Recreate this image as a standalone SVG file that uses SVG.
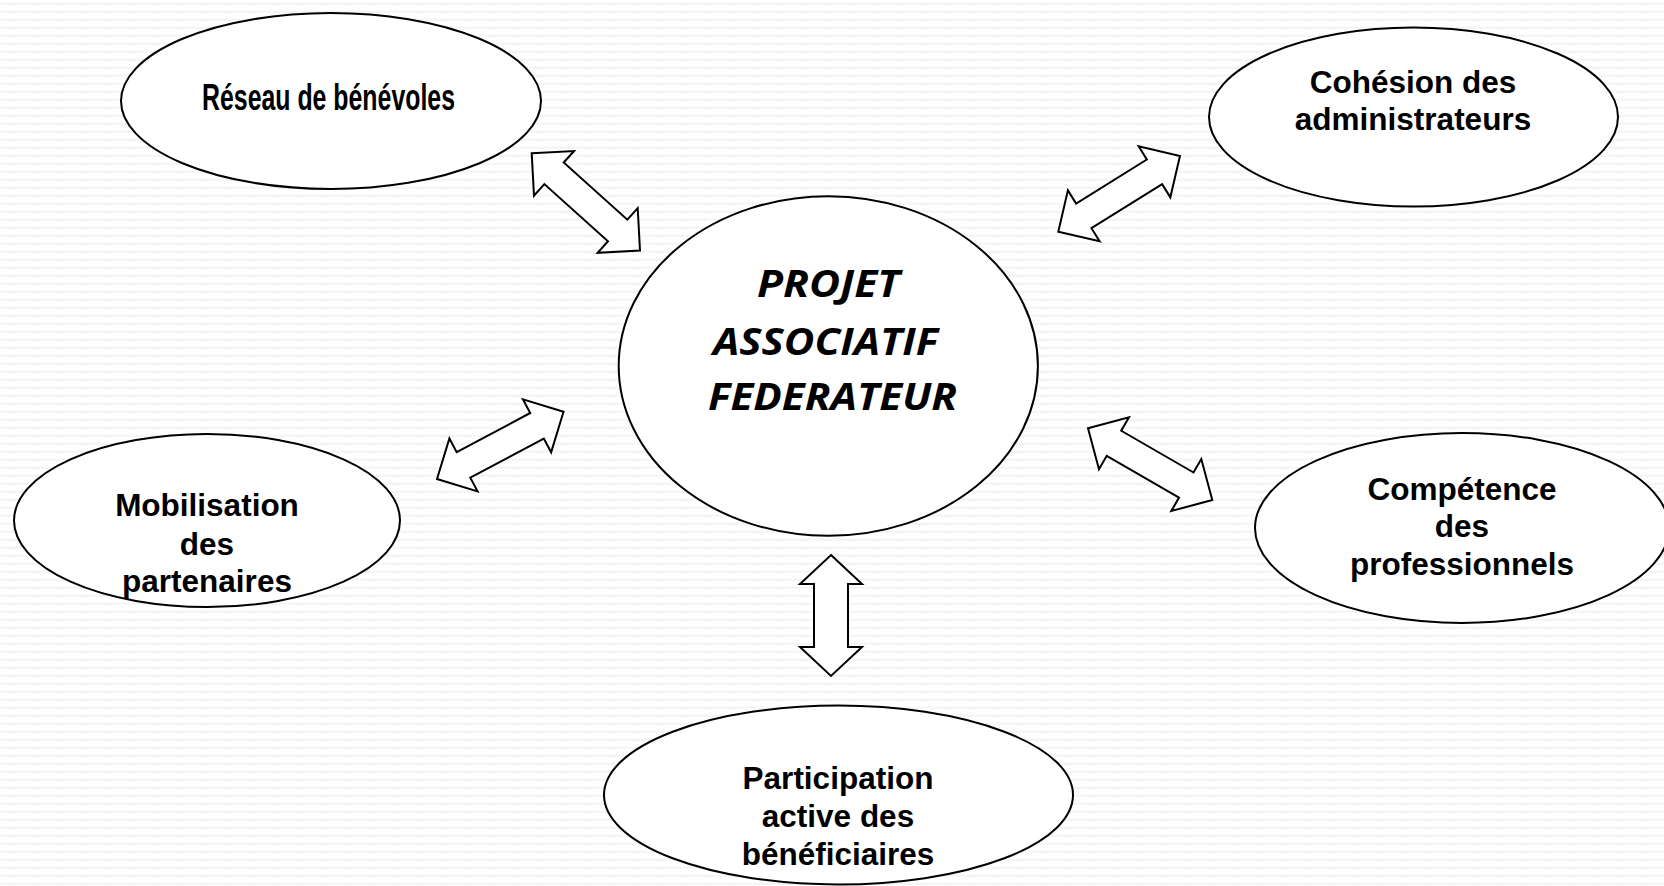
<svg xmlns="http://www.w3.org/2000/svg" width="1664" height="886" viewBox="0 0 1664 886">
  <defs>
    <pattern id="bgwave" width="6" height="8" patternUnits="userSpaceOnUse">
      <path d="M0,5 L1.5,2.5 L3,5 L4.5,2.5 L6,5" fill="none" stroke="#efefef" stroke-width="1"/>
    </pattern>
  </defs>
  <style>
    .node { fill: #ffffff; stroke: #000000; stroke-width: 2; }
    .arrow { fill: #ffffff; stroke: #000000; stroke-width: 2; stroke-linejoin: miter; }
    .lbl { font-family: "Liberation Sans", Arial, sans-serif; font-weight: bold; font-size: 31.5px; fill: #000000; text-anchor: middle; }
    .narrow { font-family: "Liberation Sans", Arial, sans-serif; font-weight: bold; font-size: 37px; fill: #000000; text-anchor: middle; }
    .core { font-family: "Open Sans", "Noto Sans", sans-serif; font-weight: bold; font-style: italic; font-size: 38px; fill: #000000; text-anchor: middle; }
  </style>

  <rect x="0" y="0" width="1664" height="886" fill="#ffffff"/>
  <rect x="0" y="0" width="1664" height="886" fill="url(#bgwave)"/>

  <g id="connectors">
    <path class="arrow" transform="translate(531.7,153.3) rotate(41.9)" d="M0,0 L30,-30 L30,-14.5 L115.5,-14.5 L115.5,-30 L145.5,0 L115.5,30 L115.5,14.5 L30,14.5 L30,30 Z"/>
    <path class="arrow" transform="translate(1058.3,231.7) rotate(-31.9)" d="M0,0 L30,-30 L30,-14.5 L113.3,-14.5 L113.3,-30 L143.3,0 L113.3,30 L113.3,14.5 L30,14.5 L30,30 Z"/>
    <path class="arrow" transform="translate(437,479) rotate(-28)" d="M0,0 L30,-30 L30,-14.5 L113.3,-14.5 L113.3,-30 L143.3,0 L113.3,30 L113.3,14.5 L30,14.5 L30,30 Z"/>
    <path class="arrow" transform="translate(1088,428.3) rotate(30)" d="M0,0 L30,-30 L30,-14.5 L113.5,-14.5 L113.5,-30 L143.5,0 L113.5,30 L113.5,14.5 L30,14.5 L30,30 Z"/>
    <path class="arrow" transform="translate(831,555) rotate(90)" d="M0,0 L29,-31 L29,-17 L92,-17 L92,-31 L121,0 L92,31 L92,17 L29,17 L29,31 Z"/>
  </g>

  <g id="node-reseau">
    <ellipse class="node" cx="331" cy="101" rx="210" ry="88"/>
    <text class="narrow" x="328.5" y="110" textLength="253" lengthAdjust="spacingAndGlyphs">Réseau de bénévoles</text>
  </g>

  <g id="node-cohesion">
    <ellipse class="node" cx="1413.5" cy="117" rx="204.5" ry="89.5"/>
    <text class="lbl" x="1413" y="93">Cohésion des</text>
    <text class="lbl" x="1413" y="130">administrateurs</text>
  </g>

  <g id="node-projet">
    <ellipse class="node" cx="828.3" cy="366" rx="209.6" ry="169.8"/>
    <text class="core" x="828.5" y="297" textLength="143" lengthAdjust="spacingAndGlyphs">PROJET</text>
    <text class="core" x="825.5" y="355" textLength="225" lengthAdjust="spacingAndGlyphs">ASSOCIATIF</text>
    <text class="core" x="832.5" y="410" textLength="249" lengthAdjust="spacingAndGlyphs">FEDERATEUR</text>
  </g>

  <g id="node-mobilisation">
    <ellipse class="node" cx="207" cy="520.5" rx="193" ry="86.5"/>
    <text class="lbl" x="207" y="516">Mobilisation</text>
    <text class="lbl" x="207" y="555">des</text>
    <text class="lbl" x="207" y="592">partenaires</text>
  </g>

  <g id="node-competence">
    <ellipse class="node" cx="1462" cy="528" rx="207" ry="95"/>
    <text class="lbl" x="1462" y="500">Compétence</text>
    <text class="lbl" x="1462" y="537">des</text>
    <text class="lbl" x="1462" y="575">professionnels</text>
  </g>

  <g id="node-participation">
    <ellipse class="node" cx="838.5" cy="795" rx="234.5" ry="89.5"/>
    <text class="lbl" x="838" y="789">Participation</text>
    <text class="lbl" x="838" y="827">active des</text>
    <text class="lbl" x="838" y="865">bénéficiaires</text>
  </g>
</svg>
